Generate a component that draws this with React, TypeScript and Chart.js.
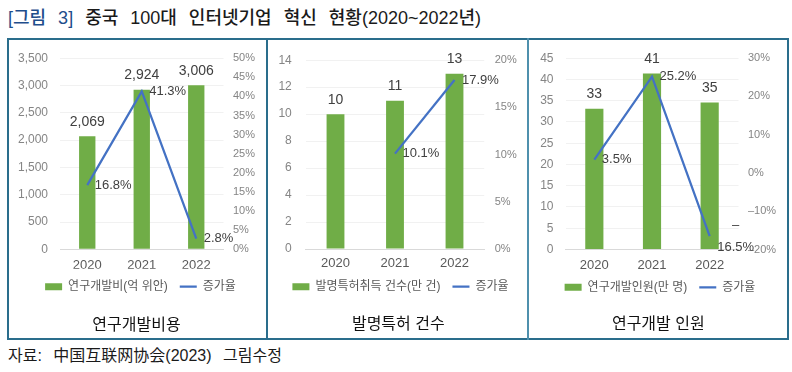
import React, { useEffect, useRef } from 'react';
import { Chart, registerables } from 'chart.js';

Chart.register(...registerables);

// ---------- data ----------
const YEARS = ['2020', '2021', '2022'];

const RND_COST = [2069, 2924, 3006]; // 억 위안
const RND_COST_RATE = [16.8, 41.3, 2.8];

const PATENTS = [10, 11, 13]; // 만 건
const PATENT_RATE: (number | null)[] = [null, 10.1, 17.9];

const RND_STAFF = [33.1, 41.4, 34.6]; // 만 명 (labels show 33, 41, 35)
const RND_STAFF_RATE = [3.5, 25.2, -16.5];

const BAR_SERIES_NAMES = ['연구개발비(억 위안)', '발명특허취득 건수(만 건)', '연구개발인원(만 명)'];
const RATE_NAME = '증가율';
const PANEL_TITLES = ['연구개발비용', '발명특허 건수', '연구개발 인원'];

const LEFT_AXIS_1 = { min: 0, max: 3500, step: 500 };
const RIGHT_AXIS_1 = { min: 0, max: 50, step: 5 };
const LEFT_AXIS_2 = { min: 0, max: 14, step: 2 };
const RIGHT_AXIS_2 = { min: 0, max: 20, step: 5 };
const LEFT_AXIS_3 = { min: 0, max: 45, step: 5 };
const RIGHT_AXIS_3 = { min: -20, max: 30, step: 10 };

const FIG_LABEL = '[그림 3]';
const FIG_TITLE = '중국 100대 인터넷기업 혁신 현황(2020~2022년)';
const SOURCE_TEXT = '자료: 中国互联网协会(2023) 그림수정';

// ---------- style ----------
const FONT = '"Liberation Sans", "Noto Sans CJK KR", sans-serif';
const GREEN = '#70AD47';
const BLUE = '#4472C4';

const PANELS = [
  {
    bars: RND_COST, rates: RND_COST_RATE, name: BAR_SERIES_NAMES[0], left: LEFT_AXIS_1, right: RIGHT_AXIS_1,
    g: { cl: 8, cr: 266, ct: 39, padL: 7, padR: 0, plotL: 60, plotR: 223.5, plotT: 55, plotB: 249.3, barPct: 0.3, yPad: 12, y1Pad: 9.5, xLab: 265, leg: 286.7 },
  },
  {
    bars: PATENTS, rates: PATENT_RATE, name: BAR_SERIES_NAMES[1], left: LEFT_AXIS_2, right: RIGHT_AXIS_2,
    g: { cl: 268, cr: 527, ct: 39, padL: 6, padR: 0, plotL: 305.75, plotR: 484.25, plotT: 56.5, plotB: 249, barPct: 0.3, yPad: 14, y1Pad: 10.5, xLab: 263.5, leg: 286.7 },
  },
  {
    bars: RND_STAFF, rates: RND_STAFF_RATE, name: BAR_SERIES_NAMES[2], left: LEFT_AXIS_3, right: RIGHT_AXIS_3,
    g: { cl: 529, cr: 788, ct: 39, padL: 3, padR: 0, plotL: 565.5, plotR: 738.5, plotT: 55.5, plotB: 249.5, barPct: 0.315, yPad: 12, y1Pad: 9.5, xLab: 265, leg: 287.3 },
  },
];

const LEGEND_PAD = 12;
const LEGEND_FONT = 12;
const LEGEND_H = LEGEND_FONT + LEGEND_PAD + 10;

function canvasHeight(g: any) {
  const xH = g.leg - LEGEND_FONT / 2 - LEGEND_PAD - g.plotB;
  return Math.ceil(g.plotB - g.ct + xH + LEGEND_H + 1);
}

const valueLabelPlugin = {
  id: 'valueLabels',
  afterDatasetsDraw(chart: any) {
    const ctx = chart.ctx;
    ctx.save();
    chart.data.datasets.forEach((ds: any, di: number) => {
      const meta = chart.getDatasetMeta(di);
      meta.data.forEach((el: any, i: number) => {
        const v = ds.data[i];
        if (v == null) return;
        ctx.fillStyle = '#404040';
        ctx.textBaseline = 'middle';
        if (ds.type === 'bar') {
          ctx.font = `14px ${FONT}`;
          ctx.textAlign = 'center';
          ctx.fillText(Math.round(v).toLocaleString('en-US'), el.x, el.y - 14.5);
        } else {
          ctx.font = `13px ${FONT}`;
          const x0 = el.x + 7.5;
          if (v < 0) {
            const main = Math.abs(v).toFixed(1) + '%';
            const w = ctx.measureText(main).width;
            ctx.textAlign = 'center';
            ctx.fillText('\u2013', x0 + w / 2, el.y - 11);
            ctx.fillText(main, x0 + w / 2, el.y + 11);
          } else {
            ctx.textAlign = 'left';
            ctx.fillText(v.toFixed(1) + '%', x0, el.y);
          }
        }
      });
    });
    ctx.restore();
  },
};

function Panel({ idx }: { idx: number }) {
  const ref = useRef<HTMLCanvasElement | null>(null);
  const p = PANELS[idx];
  const g = p.g;
  const W = g.cr - g.cl;
  const H = canvasHeight(g);

  useEffect(() => {
    if (!ref.current) return;
    const xH = g.leg - LEGEND_FONT / 2 - LEGEND_PAD - g.plotB;
    const padTop = g.plotT - g.ct;
    const padBottom = H - (g.plotB - g.ct) - xH - LEGEND_H;
    const yW = g.plotL - g.cl - g.padL;
    const y1W = g.cr - g.padR - g.plotR;
    const xPad = g.xLab - g.plotB - 13 * 1.2 / 2;

    const chart = new Chart(ref.current, {
      type: 'bar',
      data: {
        labels: YEARS,
        datasets: [
          {
            type: 'bar',
            label: p.name,
            data: p.bars,
            backgroundColor: GREEN,
            borderWidth: 0,
            barPercentage: g.barPct,
            categoryPercentage: 1,
            yAxisID: 'y',
            order: 1,
          } as any,
          {
            type: 'line',
            label: RATE_NAME,
            data: p.rates,
            borderColor: BLUE,
            backgroundColor: BLUE,
            borderWidth: 2.25,
            pointRadius: 0,
            tension: 0,
            yAxisID: 'y1',
            order: 0,
          } as any,
        ],
      },
      options: {
        responsive: false,
        animation: false,
        events: [],
        layout: { padding: { left: g.padL, right: g.padR, top: padTop, bottom: padBottom } },
        scales: {
          x: {
            grid: { display: false, drawTicks: false },
            border: { display: true, color: '#d9d9d9', width: 1 },
            ticks: { padding: xPad, color: '#595959', font: { size: 13, family: FONT } },
            afterFit: (s: any) => { s.height = xH; },
          },
          y: {
            position: 'left',
            min: p.left.min,
            max: p.left.max,
            ticks: {
              stepSize: p.left.step,
              padding: g.yPad,
              color: '#858585',
              font: { size: 12, family: FONT },
              callback: (v: any) => Number(v).toLocaleString('en-US'),
            },
            grid: { color: '#f1f1f1', drawTicks: false },
            border: { display: false },
            afterFit: (s: any) => { s.width = yW; },
          },
          y1: {
            position: 'right',
            min: p.right.min,
            max: p.right.max,
            ticks: {
              stepSize: p.right.step,
              padding: g.y1Pad,
              color: '#858585',
              font: { size: 11, family: FONT },
              callback: (v: any) => (Number(v) < 0 ? '\u2013' + Math.abs(Number(v)) : String(v)) + '%',
            },
            grid: { display: false, drawTicks: false },
            border: { display: false },
            afterFit: (s: any) => { s.width = y1W; },
          },
        },
        plugins: {
          tooltip: { enabled: false },
          title: { display: false },
          legend: {
            position: 'bottom',
            labels: {
              usePointStyle: true,
              pointStyleWidth: 17,
              boxHeight: 7,
              padding: LEGEND_PAD,
              color: '#595959',
              font: { size: LEGEND_FONT, family: FONT },
              generateLabels: (c: any) => {
                const items = (Chart.defaults.plugins.legend.labels as any).generateLabels(c);
                items.forEach((it: any) => {
                  const ds = c.data.datasets[it.datasetIndex];
                  if (ds.type === 'line') {
                    it.pointStyle = 'line';
                    it.strokeStyle = BLUE;
                    it.lineWidth = 2.25;
                  } else {
                    it.pointStyle = 'rect';
                    it.fillStyle = GREEN;
                    it.lineWidth = 0;
                  }
                });
                return items.sort((a: any, b: any) => a.datasetIndex - b.datasetIndex);
              },
            },
          },
        },
      } as any,
      plugins: [valueLabelPlugin],
    });
    return () => chart.destroy();
  }, []);

  return (
    <canvas
      ref={ref}
      width={W}
      height={H}
      style={{ position: 'absolute', left: g.cl, top: g.ct, width: W, height: H }}
    />
  );
}

const SUBTITLE_POS = [
  { cx: 136.5, cy: 325 },
  { cx: 398.3, cy: 323.5 },
  { cx: 658.3, cy: 323.5 },
];

export default function App() {
  useEffect(() => {
    document.body.style.margin = '0';
  }, []);
  return (
    <div style={{ position: 'fixed', left: 0, top: 0, width: 792, height: 372, background: '#fff', overflow: 'hidden', fontFamily: FONT }}>
      <div style={{ position: 'absolute', left: 8, top: 5.5, fontSize: 18, fontWeight: 500, lineHeight: '24px', whiteSpace: 'nowrap', wordSpacing: 7, color: '#1a1a1a' }}>
        <span style={{ color: '#1f4e8c' }}>{FIG_LABEL}</span> {FIG_TITLE}
      </div>

      {PANELS.map((_, i) => <Panel key={i} idx={i} />)}

      <div style={{ position: 'absolute', left: 7, top: 38, width: 782, height: 302, border: '2px solid #2a6d8c', boxSizing: 'border-box' }} />
      <div style={{ position: 'absolute', left: 266, top: 38, width: 2, height: 302, background: '#2a6d8c' }} />
      <div style={{ position: 'absolute', left: 527, top: 38, width: 2, height: 302, background: '#4f90ad' }} />

      {PANEL_TITLES.map((t, i) => (
        <div key={t} style={{ position: 'absolute', left: SUBTITLE_POS[i].cx - 100, top: SUBTITLE_POS[i].cy - 11, width: 200, textAlign: 'center', fontSize: 16, lineHeight: '22px', color: '#111' }}>
          {t}
        </div>
      ))}

      <div style={{ position: 'absolute', left: 8, top: 344.5, fontSize: 16, lineHeight: '21px', whiteSpace: 'nowrap', wordSpacing: 7, color: '#1a1a1a' }}>
        {SOURCE_TEXT}
      </div>
    </div>
  );
}
